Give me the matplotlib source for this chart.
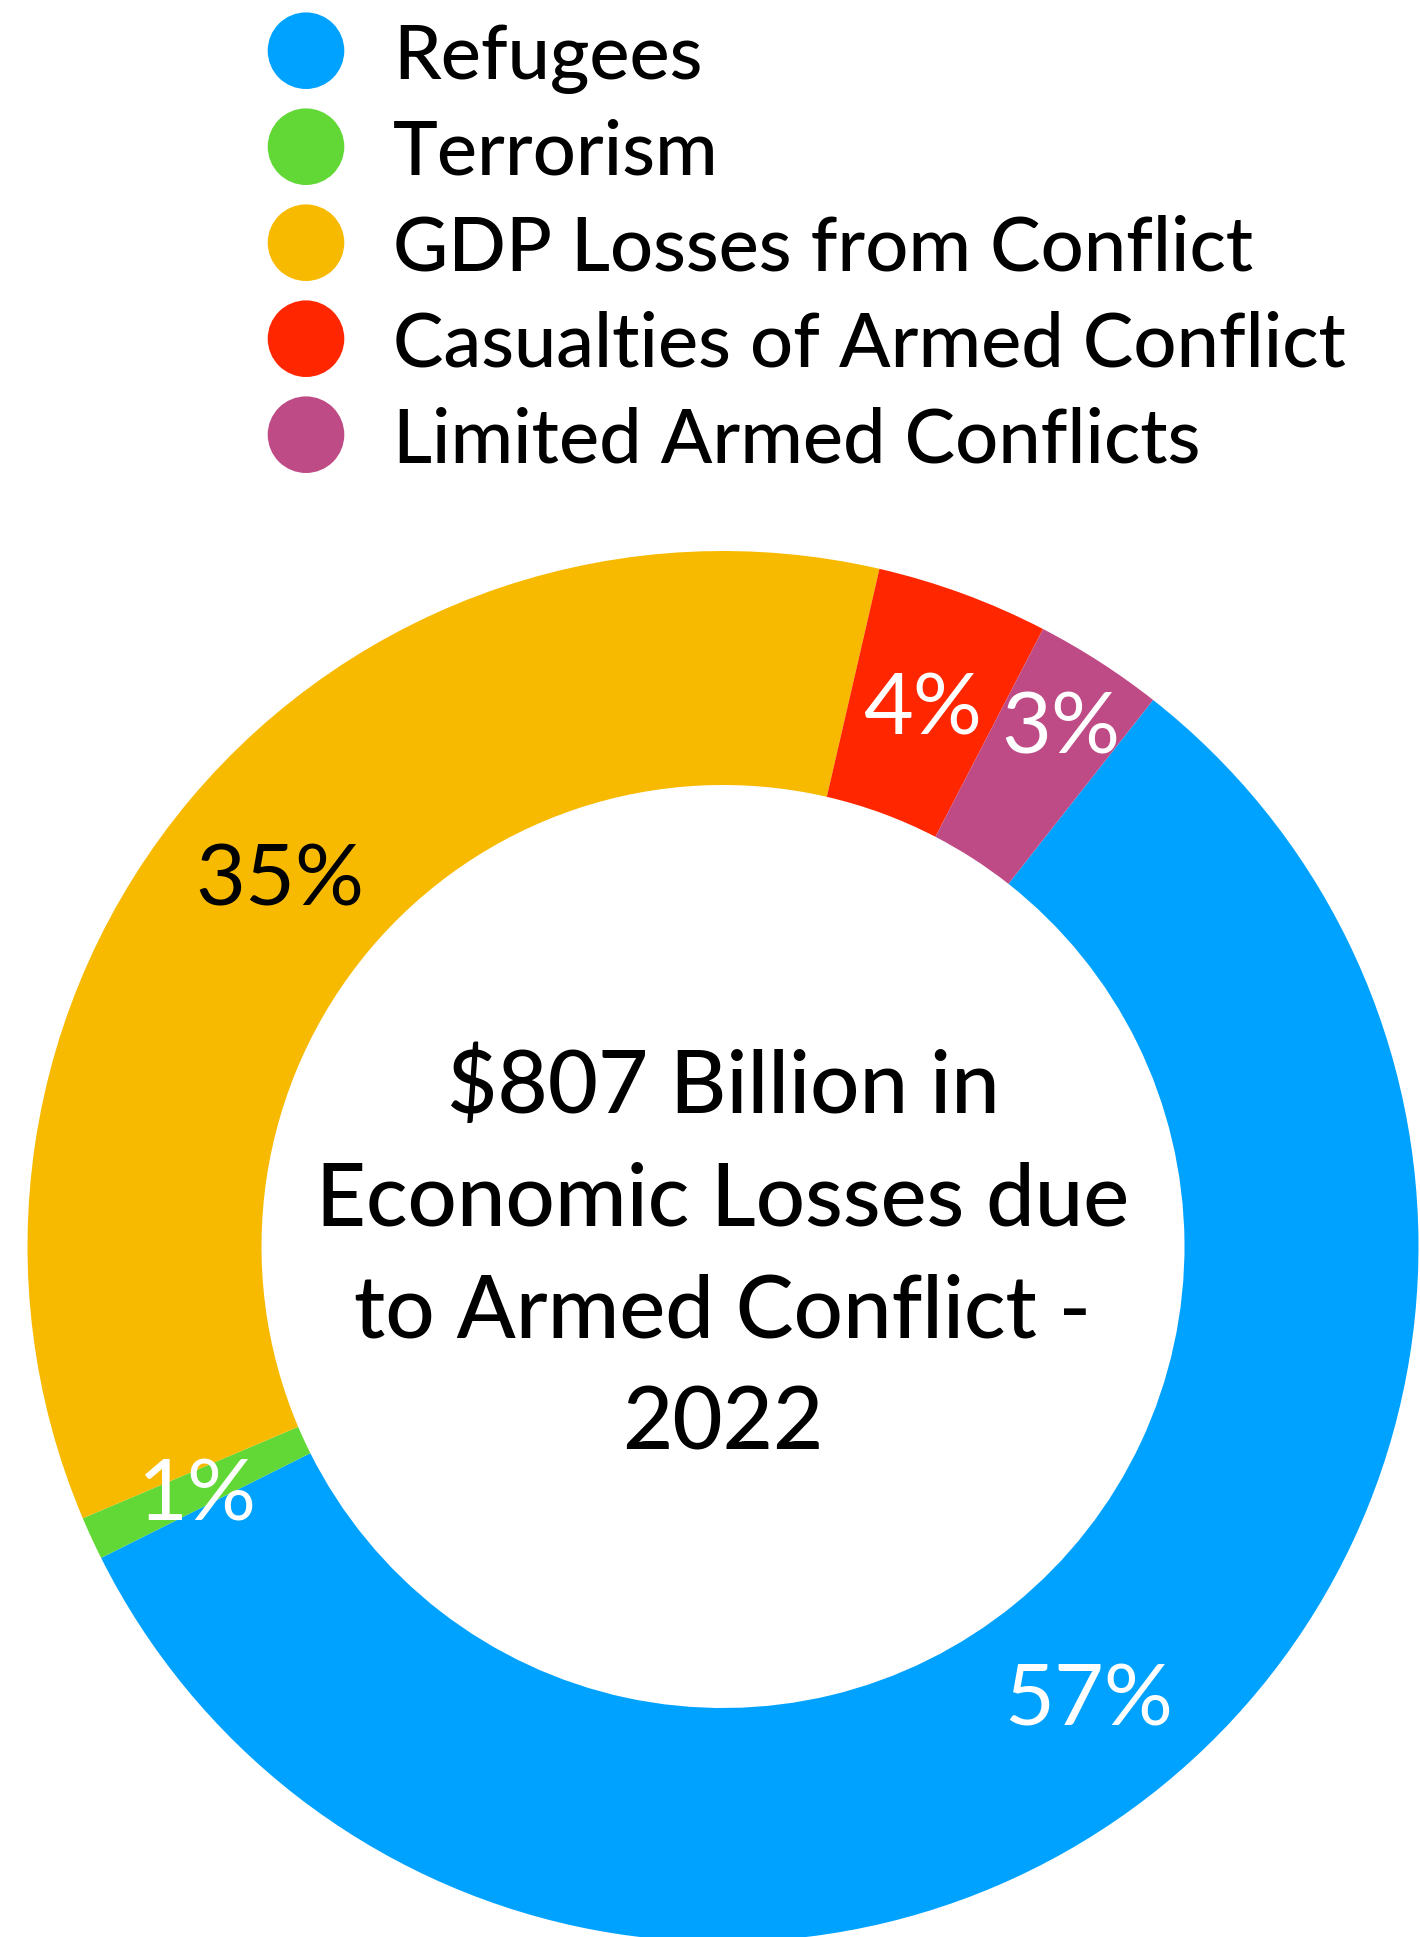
import numpy as np
import matplotlib
matplotlib.use("Agg")
import matplotlib.pyplot as plt
from matplotlib.patches import Circle

# economic losses from armed conflict, share of total (%)
categories = ["Refugees", "Terrorism", "GDP Losses from Conflict",
              "Casualties of Armed Conflict", "Limited Armed Conflicts"]
shares = [57, 1, 35, 4, 3]
colors = ["#00A2FF", "#61D836", "#F8BA00", "#FF2600", "#BE4A86"]
label_colors = ["white", "white", "black", "white", "white"]
center_lines = ["$807 Billion in", "Economic Losses due", "to Armed Conflict -", "2022"]

W, H = 1420, 1937
FONT = "Lato"

fig = plt.figure(figsize=(W / 100, H / 100), dpi=100)
ax = fig.add_axes([0, 0, 1, 1])

# donut geometry in pixel units (y measured from the top)
cx, cy = 723, 1246.5
r_out, r_in = 695.5, 461.5
start = 51.8

def Y(y):
    return H - y

ax.pie(shares, colors=colors, startangle=start, counterclock=False,
       radius=r_out, center=(cx, Y(cy)),
       wedgeprops=dict(width=r_out - r_in, linewidth=0))

# percentage labels in the middle of each ring segment
# (baseline placed half a cap height below the anchor so digits sit centred)
total = sum(shares)
cum = 0
r_mid = (r_out + r_in) / 2
for i, v in enumerate(shares):
    ang = np.deg2rad(start - (cum + v / 2) / total * 360)
    cum += v
    r = r_mid + (45 if categories[i] == "Limited Armed Conflicts" else 0)
    ax.text(cx + r * np.cos(ang), Y(cy) + r * np.sin(ang) - 31, f"{v}%",
            ha="center", va="baseline", fontsize=62, color=label_colors[i],
            family=FONT)

# centre caption
for k, line in enumerate(center_lines):
    ax.text(cx, Y(1113 + 112 * k), line, ha="center", va="baseline",
            fontsize=62.5, color="black", family=FONT, fontweight="medium")

# legend
for k, (name, col) in enumerate(zip(categories, colors)):
    yy = Y(50.7 + 96 * k)
    ax.add_patch(Circle((306, yy), 38.3, color=col, lw=0))
    ax.text(393, yy - 28, name, ha="left", va="baseline", fontsize=54.5,
            color="black", family=FONT, fontweight="medium")

ax.set_xlim(0, W)
ax.set_ylim(0, H)
ax.set_aspect("equal")
ax.axis("off")

fig.savefig("out.png", dpi=100, facecolor="white")
